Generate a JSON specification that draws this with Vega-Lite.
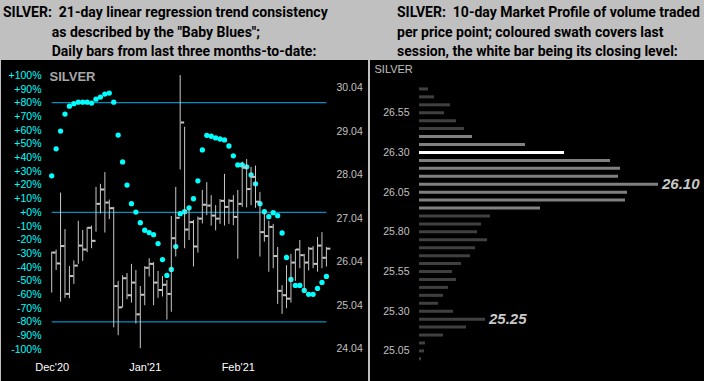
{
  "$schema": "https://vega.github.io/schema/vega-lite/v6.json",
  "padding": {"left": 1, "top": 6, "right": 0, "bottom": 0},
  "background": "#c0c0c0",
  "bounds": "flush",
  "spacing": 2,
  "config": {
    "view": {"fill": "#000000", "stroke": null},
    "font": "Liberation Sans",
    "axis": {"labelOverlap": false, "labelSeparation": 0},
    "title": {"anchor": "start", "frame": "group", "orient": "top", "font": "Roboto", "fontSize": 14, "fontWeight": "bold", "color": "#000000", "lineHeight": 19.5, "baseline": "bottom", "offset": 1}
  },
  "datasets": {
    "bars": [
      {"i":1,"h":26.27,"l":25.33,"c":26.25,"bb":26.6},
      {"i":2,"h":26.32,"l":25.85,"c":26.00,"bb":46.3},
      {"i":3,"h":27.63,"l":25.12,"c":26.40,"bb":59.3},
      {"i":4,"h":26.79,"l":25.21,"c":25.30,"bb":71.7},
      {"i":5,"h":25.94,"l":25.20,"c":25.71,"bb":77.5},
      {"i":6,"h":26.07,"l":25.53,"c":25.95,"bb":79.3},
      {"i":7,"h":26.98,"l":25.99,"c":26.41,"bb":80.4},
      {"i":8,"h":26.77,"l":26.06,"c":26.32,"bb":80.4},
      {"i":9,"h":26.84,"l":26.26,"c":26.82,"bb":80.4},
      {"i":10,"h":26.87,"l":26.35,"c":26.52,"bb":79.7},
      {"i":11,"h":27.76,"l":26.73,"c":27.37,"bb":82.6},
      {"i":12,"h":27.83,"l":27.15,"c":27.70,"bb":84.1},
      {"i":13,"h":28.10,"l":26.71,"c":27.40,"bb":86.3},
      {"i":14,"h":27.47,"l":27.02,"c":27.27,"bb":87.0},
      {"i":15,"h":27.30,"l":24.53,"c":25.48,"bb":80.4},
      {"i":16,"h":25.60,"l":24.35,"c":24.99,"bb":56.4},
      {"i":17,"h":25.73,"l":24.99,"c":25.66,"bb":36.8},
      {"i":18,"h":25.78,"l":25.18,"c":25.27,"bb":19.9},
      {"i":19,"h":25.99,"l":25.10,"c":25.56,"bb":6.3},
      {"i":20,"h":25.85,"l":24.62,"c":24.83,"bb":0.2},
      {"i":21,"h":25.48,"l":24.05,"c":25.28,"bb":-7.6},
      {"i":22,"h":25.94,"l":25.04,"c":25.90,"bb":-13.1},
      {"i":23,"h":26.12,"l":25.70,"c":25.99,"bb":-14.8},
      {"i":24,"h":26.03,"l":25.04,"c":25.56,"bb":-16.3},
      {"i":25,"h":25.83,"l":25.21,"c":25.39,"bb":-22.8},
      {"i":26,"h":25.71,"l":25.24,"c":25.51,"bb":-34.5},
      {"i":27,"h":25.62,"l":24.71,"c":25.30,"bb":-46.1},
      {"i":28,"h":27.09,"l":24.89,"c":26.58,"bb":-41.7},
      {"i":29,"h":27.76,"l":26.16,"c":27.05,"bb":-25.0},
      {"i":30,"h":30.33,"l":28.16,"c":29.24,"bb":-1.0},
      {"i":31,"h":29.14,"l":26.35,"c":26.78,"bb":0.4},
      {"i":32,"h":27.27,"l":26.54,"c":26.95,"bb":3.3},
      {"i":33,"h":27.00,"l":25.93,"c":26.39,"bb":9.9},
      {"i":34,"h":27.08,"l":26.25,"c":27.03,"bb":23.0},
      {"i":35,"h":27.69,"l":26.92,"c":27.35,"bb":45.5},
      {"i":36,"h":27.87,"l":27.11,"c":27.33,"bb":56.2},
      {"i":37,"h":27.57,"l":26.87,"c":27.10,"bb":55.5},
      {"i":38,"h":27.34,"l":26.76,"c":27.03,"bb":54.3},
      {"i":39,"h":27.48,"l":26.91,"c":27.44,"bb":53.5},
      {"i":40,"h":28.06,"l":26.87,"c":27.30,"bb":52.8},
      {"i":41,"h":27.48,"l":26.91,"c":27.44,"bb":48.4},
      {"i":42,"h":27.57,"l":26.88,"c":27.07,"bb":41.2},
      {"i":43,"h":27.69,"l":26.11,"c":27.37,"bb":34.6},
      {"i":44,"h":28.34,"l":27.30,"c":28.20,"bb":34.6},
      {"i":45,"h":28.40,"l":27.29,"c":27.71,"bb":33.2},
      {"i":46,"h":28.22,"l":27.34,"c":27.99,"bb":27.3},
      {"i":47,"h":28.25,"l":27.28,"c":27.42,"bb":20.8},
      {"i":48,"h":27.64,"l":26.16,"c":26.72,"bb":6.3},
      {"i":49,"h":27.19,"l":26.50,"c":26.63,"bb":0.4},
      {"i":50,"h":26.98,"l":25.81,"c":26.84,"bb":-3.2},
      {"i":51,"h":26.91,"l":25.89,"c":26.17,"bb":-0.3},
      {"i":52,"h":26.38,"l":25.07,"c":25.37,"bb":-2.5},
      {"i":53,"h":25.50,"l":24.84,"c":25.27,"bb":-15.1},
      {"i":54,"h":25.96,"l":24.97,"c":25.19,"bb":-33.0},
      {"i":55,"h":26.22,"l":25.10,"c":26.02,"bb":-49.0},
      {"i":56,"h":26.33,"l":25.60,"c":26.32,"bb":-53.4},
      {"i":57,"h":26.54,"l":25.89,"c":26.19,"bb":-53.4},
      {"i":58,"h":26.22,"l":25.37,"c":26.02,"bb":-57.0},
      {"i":59,"h":26.38,"l":25.84,"c":26.34,"bb":-59.9},
      {"i":60,"h":26.40,"l":25.89,"c":25.99,"bb":-59.9},
      {"i":61,"h":26.61,"l":25.81,"c":26.41,"bb":-55.6},
      {"i":62,"h":26.72,"l":25.89,"c":26.13,"bb":-51.2},
      {"i":63,"h":26.38,"l":25.93,"c":26.34,"bb":-46.8}
    ],
    "levels": [{"level": 80}, {"level": 0}, {"level": -80}],
    "profile": [
      {"p":26.70,"v":9,"s":"out"},
      {"p":26.65,"v":15,"s":"out"},
      {"p":26.60,"v":31,"s":"out"},
      {"p":26.55,"v":25,"s":"out"},
      {"p":26.50,"v":37,"s":"out"},
      {"p":26.45,"v":45,"s":"out"},
      {"p":26.40,"v":53,"s":"session"},
      {"p":26.35,"v":106,"s":"session"},
      {"p":26.30,"v":145,"s":"close"},
      {"p":26.25,"v":191,"s":"session"},
      {"p":26.20,"v":201,"s":"session"},
      {"p":26.15,"v":199,"s":"session"},
      {"p":26.10,"v":239,"s":"session","note":true},
      {"p":26.05,"v":208,"s":"session"},
      {"p":26.00,"v":206,"s":"session"},
      {"p":25.95,"v":121,"s":"session"},
      {"p":25.90,"v":71,"s":"out"},
      {"p":25.85,"v":62,"s":"out"},
      {"p":25.80,"v":58,"s":"out"},
      {"p":25.75,"v":68,"s":"out"},
      {"p":25.70,"v":56,"s":"out"},
      {"p":25.65,"v":51,"s":"out"},
      {"p":25.60,"v":42,"s":"out"},
      {"p":25.55,"v":33,"s":"out"},
      {"p":25.50,"v":37,"s":"out"},
      {"p":25.45,"v":29,"s":"out"},
      {"p":25.40,"v":24,"s":"out"},
      {"p":25.35,"v":19,"s":"out"},
      {"p":25.30,"v":34,"s":"out"},
      {"p":25.25,"v":66,"s":"out","note":true},
      {"p":25.20,"v":47,"s":"out"},
      {"p":25.15,"v":24,"s":"out"},
      {"p":25.10,"v":6,"s":"out"},
      {"p":25.05,"v":5,"s":"out"},
      {"p":25.00,"v":2,"s":"out"}
    ]
  },
  "hconcat": [
    {
      "width": 367,
      "height": 321,
      "title": {
        "text": [
          "SILVER:\u00a0 21-day linear regression trend consistency",
          "\u200b\u00a0\u00a0\u00a0\u00a0\u00a0\u00a0\u00a0\u00a0\u00a0\u00a0\u00a0\u00a0\u00a0\u00a0as described by the \"Baby Blues\";",
          "\u200b\u00a0\u00a0\u00a0\u00a0\u00a0\u00a0\u00a0\u00a0\u00a0\u00a0\u00a0\u00a0\u00a0\u00a0Daily bars from last three months-to-date:"
        ],
        "dx": 2
      },
      "layer": [
        {
          "layer": [
            {
              "data": {"name": "levels"},
              "mark": {"type": "rule", "color": "#00b4f0", "strokeWidth": 1},
              "encoding": {
                "x": {"datum": 1, "type": "quantitative"},
                "x2": {"datum": 63},
                "y": {"field": "level", "type": "quantitative"}
              }
            },
            {
              "data": {"name": "bars"},
              "mark": {"type": "point", "filled": true, "color": "#00ffff", "size": 28, "opacity": 1},
              "encoding": {
                "x": {
                  "field": "i", "type": "quantitative",
                  "scale": {"domain": [-10.443, 72.39], "nice": false, "zero": false},
                  "axis": {
                    "values": [1, 22, 43],
                    "labelExpr": "datum.value == 1 ? \"Dec'20\" : datum.value == 22 ? \"Jan'21\" : \"Feb'21\"",
                    "domain": false, "ticks": false, "tickSize": 0, "grid": false,
                    "labelColor": "#ffffff", "labelFontSize": 11, "labelPadding": 0,
                    "labelFlush": false, "labelOverlap": false,
                    "offset": -20, "title": null
                  }
                },
                "y": {
                  "field": "bb", "type": "quantitative",
                  "scale": {"domain": [-123.14, 111.17], "nice": false, "zero": false},
                  "axis": {
                    "orient": "left",
                    "values": [-100, -90, -80, -70, -60, -50, -40, -30, -20, -10, 0, 10, 20, 30, 40, 50, 60, 70, 80, 90, 100],
                    "tickCount": 40,
                    "labelExpr": "(datum.value >= 0 ? '+' : '') + datum.value + '%'",
                    "domain": false, "ticks": false, "tickSize": 0, "grid": false,
                    "labelColor": "#00ffff", "labelFontSize": 10.5, "labelPadding": 0,
                    "labelOverlap": false, "labelFlush": false, "labelSeparation": 0,
                    "offset": -40,
                    "title": "SILVER", "titleAngle": 0, "titleAlign": "left", "titleBaseline": "alphabetic",
                    "titleX": 8, "titleY": 20.7, "titleColor": "#a8a8a8", "titleFontSize": 13, "titleFontWeight": "bold"
                  }
                }
              }
            }
          ]
        },
        {
          "layer": [
            {
              "data": {"name": "bars"},
              "mark": {"type": "rule", "color": "#c8c8c8", "strokeWidth": 1},
              "encoding": {
                "x": {"field": "i", "type": "quantitative"},
                "y": {
                  "field": "h", "type": "quantitative",
                  "scale": {"domain": [23.2975, 30.677], "nice": false, "zero": false},
                  "axis": {
                    "orient": "right",
                    "values": [24.04, 25.04, 26.04, 27.04, 28.04, 29.04, 30.04],
                    "format": ".2f",
                    "domain": false, "ticks": false, "tickSize": 0, "grid": false,
                    "labelColor": "#c0c0c0", "labelFontSize": 10.5, "labelPadding": 0,
                    "labelAlign": "left",
                    "labelOverlap": false, "labelFlush": false,
                    "offset": -32, "title": null
                  }
                },
                "y2": {"field": "l"}
              }
            },
            {
              "data": {"name": "bars"},
              "mark": {"type": "tick", "orient": "horizontal", "color": "#c8c8c8", "thickness": 2, "size": 3.5, "xOffset": 2.2, "opacity": 1},
              "encoding": {
                "x": {"field": "i", "type": "quantitative"},
                "y": {"field": "c", "type": "quantitative"}
              }
            }
          ]
        }
      ],
      "resolve": {"scale": {"y": "independent"}}
    },
    {
      "width": 334,
      "height": 321,
      "title": {
        "text": [
          "SILVER:\u00a0 10-day Market Profile of volume traded",
          "per price point; coloured swath covers last",
          "session, the white bar being its closing level:"
        ],
        "dx": 27
      },
      "layer": [
        {
          "data": {"name": "profile"},
          "mark": {"type": "bar", "orient": "horizontal", "size": 3},
          "encoding": {
            "y": {
              "field": "p", "type": "quantitative",
              "scale": {"domain": [24.892, 26.8507], "nice": false, "zero": false},
              "axis": {
                "orient": "left",
                "values": [25.05, 25.3, 25.55, 25.8, 26.05, 26.3, 26.55],
                "format": ".2f",
                "domain": false, "ticks": false, "tickSize": 0, "grid": false,
                "labelColor": "#c0c0c0", "labelFontSize": 10.5, "labelPadding": 0,
                "labelOverlap": false, "labelFlush": false,
                "offset": -39,
                "title": "SILVER", "titleAngle": 0, "titleAlign": "left", "titleBaseline": "alphabetic",
                "titleX": -35, "titleY": 12.7, "titleColor": "#c0c0c0", "titleFontSize": 11, "titleFontWeight": "normal"
              }
            },
            "x": {
              "field": "v", "type": "quantitative",
              "scale": {"domain": [-49, 285], "nice": false, "zero": false},
              "axis": null
            },
            "color": {
              "field": "s", "type": "nominal",
              "scale": {"domain": ["out", "session", "close"], "range": ["#404040", "#808080", "#ffffff"]},
              "legend": null
            }
          }
        },
        {
          "data": {"name": "profile"},
          "transform": [{"filter": "datum.note"}],
          "mark": {"type": "text", "align": "left", "baseline": "middle", "dx": 4, "fontSize": 15, "fontWeight": "bold", "fontStyle": "italic", "color": "#c8c8c8"},
          "encoding": {
            "x": {"field": "v", "type": "quantitative"},
            "y": {"field": "p", "type": "quantitative"},
            "text": {"field": "p", "type": "quantitative", "format": ".2f"}
          }
        }
      ]
    }
  ]
}
